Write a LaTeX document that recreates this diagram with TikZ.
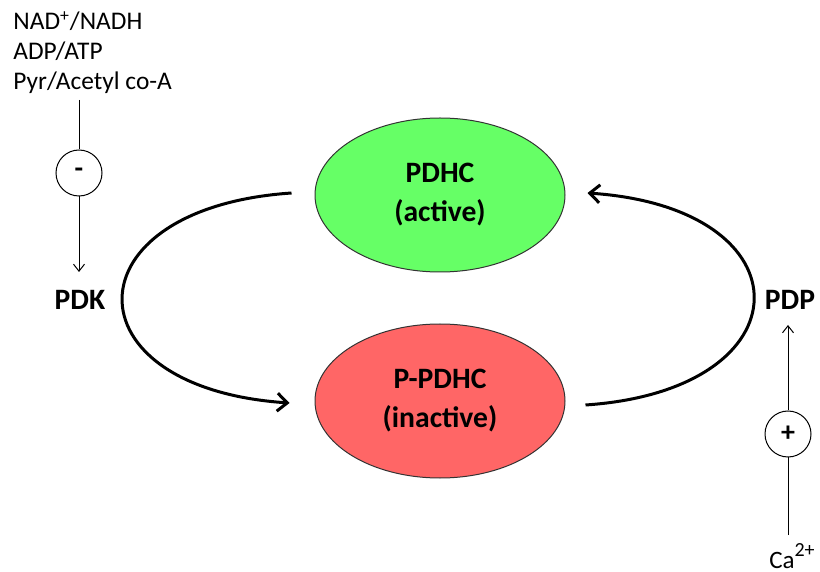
\documentclass[tikz,border=0pt]{standalone}
\usepackage{fontspec}
\setmainfont{Carlito}
\usetikzlibrary{arrows.meta,shapes.geometric,positioning}
\definecolor{actgreen}{RGB}{102,255,102}
\definecolor{inactred}{RGB}{255,102,102}
\tikzset{
  enzyme/.style={ellipse,draw=black!80,line width=0.5pt,minimum width=125pt,minimum height=77pt,inner sep=0pt,
    align=center,font=\fontsize{14.8}{19.5}\selectfont\bfseries},
  kinase/.style={font=\fontsize{14.8}{17}\selectfont\bfseries,inner sep=1pt},
  effect/.style={circle,draw,line width=0.5pt,minimum size=23pt,inner sep=0pt,font=\fontsize{14}{16}\selectfont\bfseries},
  thin arrow/.style={line width=0.5pt,-{Straight Barb[length=3.5pt,width=5.5pt]}},
  cycle arrow/.style={line width=1.5pt,-{Straight Barb[length=5pt,width=9pt]}}
}
\begin{document}
\begin{tikzpicture}[x=0.5pt,y=-0.5pt]
  \useasboundingbox (0,0) rectangle (820,572);
  % the two forms of the complex
  \node[enzyme,fill=actgreen] (pdhc) at (440,195) {PDHC\\(active)};
  \node[enzyme,fill=inactred] (ppdhc) at (440,401) {P-PDHC\\(inactive)};

  % kinase and phosphatase
  \node[kinase] (pdk) at (80,300) {PDK};
  \node[kinase] (pdp) at (790,300) {PDP};

  % regulators
  \node[anchor=north west,align=left,inner sep=0pt,font=\fontsize{12.7}{15}\selectfont] (effectors) at (13,11)
    {NAD\textsuperscript{+}/NADH\\ADP/ATP\\Pyr/Acetyl co-A};
  \node[effect] (inhib) at (79,173) {-};
  \node[effect] (activ) at (788,434) {+};
  \node[anchor=base,font=\fontsize{12.5}{14}\selectfont,inner sep=0pt] (ca) at (792,568) {Ca\raisebox{0.45em}{\fontsize{10}{11}\selectfont 2+}};
  \coordinate (efftop) at (79,100);
  \coordinate (cabot) at (788,535);

  \draw[line width=0.5pt] (efftop) -- (inhib);
  \draw[thin arrow] (inhib) -- (79,272);
  \draw[line width=0.5pt] (cabot) -- (activ);
  \draw[thin arrow] (activ) -- (788,325);

  % interconversion
  \draw[cycle arrow] ([shift={(-23,-2)}]pdhc.west) .. controls +(-224,15) and +(-224,-15) .. ([shift={(-25,2)}]ppdhc.west);
  \draw[cycle arrow] ([shift={(20,4)}]ppdhc.east) .. controls +(223,-15) and +(223,15) .. ([shift={(22,-2)}]pdhc.east);
\end{tikzpicture}
\end{document}
